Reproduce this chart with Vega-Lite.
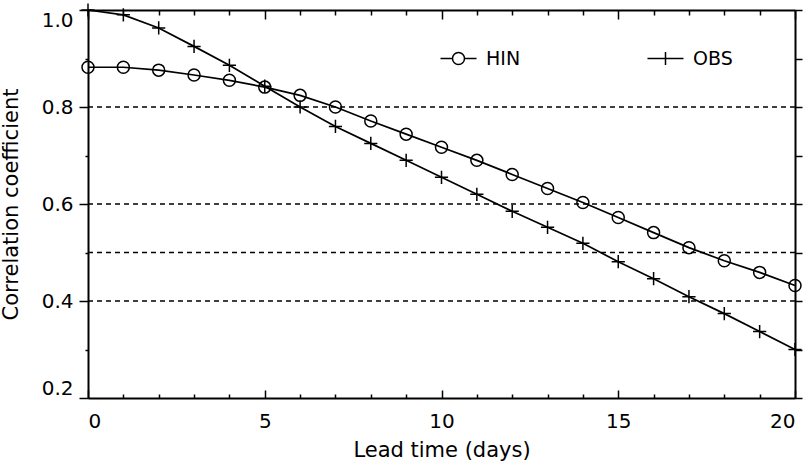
{
  "$schema": "https://vega.github.io/schema/vega-lite/v6.json",
  "width": 707,
  "height": 388,
  "autosize": {"type": "none"},
  "padding": {"left": 88, "top": 10, "right": 14, "bottom": 64},
  "background": "white",
  "config": {
    "view": {"stroke": null},
    "axis": {
      "domainColor": "black",
      "domainWidth": 2,
      "tickColor": "black",
      "tickWidth": 1.5,
      "labelFont": "DejaVu Sans",
      "labelFontSize": 20,
      "labelColor": "black",
      "titleFont": "DejaVu Sans",
      "titleFontSize": 21,
      "titleFontWeight": "normal",
      "titleColor": "black",
      "grid": false
    },
    "legend": {
      "labelFont": "DejaVu Sans",
      "labelFontSize": 19,
      "labelColor": "black",
      "title": null,
      "orient": "none",
      "symbolSize": 144,
      "symbolStrokeColor": "black",
      "symbolFillColor": "transparent",
      "symbolStrokeWidth": 1.5,
      "symbolOpacity": 1,
      "labelOffset": 18
    }
  },
  "datasets": {
    "grid": [{"level": 0.4}, {"level": 0.5}, {"level": 0.6}, {"level": 0.8}],
    "corr": [
      {"day": 0, "value": 0.882, "series": "HIN"},
      {"day": 1, "value": 0.882, "series": "HIN"},
      {"day": 2, "value": 0.876, "series": "HIN"},
      {"day": 3, "value": 0.866, "series": "HIN"},
      {"day": 4, "value": 0.855, "series": "HIN"},
      {"day": 5, "value": 0.841, "series": "HIN"},
      {"day": 6, "value": 0.824, "series": "HIN"},
      {"day": 7, "value": 0.8, "series": "HIN"},
      {"day": 8, "value": 0.771, "series": "HIN"},
      {"day": 9, "value": 0.744, "series": "HIN"},
      {"day": 10, "value": 0.717, "series": "HIN"},
      {"day": 11, "value": 0.69, "series": "HIN"},
      {"day": 12, "value": 0.661, "series": "HIN"},
      {"day": 13, "value": 0.632, "series": "HIN"},
      {"day": 14, "value": 0.603, "series": "HIN"},
      {"day": 15, "value": 0.572, "series": "HIN"},
      {"day": 16, "value": 0.541, "series": "HIN"},
      {"day": 17, "value": 0.51, "series": "HIN"},
      {"day": 18, "value": 0.483, "series": "HIN"},
      {"day": 19, "value": 0.459, "series": "HIN"},
      {"day": 20, "value": 0.432, "series": "HIN"},
      {"day": 0, "value": 1.0, "series": "OBS"},
      {"day": 1, "value": 0.99, "series": "OBS"},
      {"day": 2, "value": 0.963, "series": "OBS"},
      {"day": 3, "value": 0.925, "series": "OBS"},
      {"day": 4, "value": 0.886, "series": "OBS"},
      {"day": 5, "value": 0.843, "series": "OBS"},
      {"day": 6, "value": 0.8, "series": "OBS"},
      {"day": 7, "value": 0.76, "series": "OBS"},
      {"day": 8, "value": 0.725, "series": "OBS"},
      {"day": 9, "value": 0.69, "series": "OBS"},
      {"day": 10, "value": 0.655, "series": "OBS"},
      {"day": 11, "value": 0.62, "series": "OBS"},
      {"day": 12, "value": 0.585, "series": "OBS"},
      {"day": 13, "value": 0.552, "series": "OBS"},
      {"day": 14, "value": 0.519, "series": "OBS"},
      {"day": 15, "value": 0.481, "series": "OBS"},
      {"day": 16, "value": 0.446, "series": "OBS"},
      {"day": 17, "value": 0.409, "series": "OBS"},
      {"day": 18, "value": 0.374, "series": "OBS"},
      {"day": 19, "value": 0.337, "series": "OBS"},
      {"day": 20, "value": 0.3, "series": "OBS"}
    ]
  },
  "resolve": {
    "axis": {"x": "independent", "y": "independent"},
    "scale": {"color": "independent"},
    "legend": {"color": "independent"}
  },
  "layer": [
    {
      "data": {"name": "grid"},
      "mark": {"type": "rule", "strokeDash": [5, 4], "strokeWidth": 1.3, "color": "black"},
      "encoding": {
        "y": {
          "field": "level",
          "type": "quantitative",
          "scale": {"domain": [0.2, 1.0], "nice": false, "zero": false},
          "axis": {
            "orient": "left",
            "title": "Correlation coefficient",
            "values": [0.2, 0.3, 0.4, 0.5, 0.6, 0.7, 0.8, 0.9, 1.0],
            "format": ".1f",
            "labelExpr": "round(datum.value * 10) % 2 === 0 ? datum.label : ''",
            "tickSize": {"condition": {"test": "round(datum.value * 10) % 2 === 0", "value": 9}, "value": 3},
            "labelFlush": true,
            "labelPadding": 6,
            "titlePadding": 20
          }
        }
      }
    },
    {
      "data": {"name": "corr"},
      "transform": [{"filter": "datum.series === 'HIN'"}],
      "mark": {"type": "line", "strokeWidth": 1.7},
      "encoding": {
        "x": {
          "field": "day",
          "type": "quantitative",
          "scale": {"domain": [0, 20], "nice": false},
          "axis": {
            "orient": "bottom",
            "title": "Lead time (days)",
            "values": [0, 1, 2, 3, 4, 5, 6, 7, 8, 9, 10, 11, 12, 13, 14, 15, 16, 17, 18, 19, 20],
            "labelExpr": "datum.value % 5 === 0 ? datum.label : ''",
            "tickSize": {"condition": {"test": "datum.value % 5 === 0", "value": -8}, "value": -4},
            "labelPadding": 21,
            "titlePadding": 8
          }
        },
        "y": {"field": "value", "type": "quantitative", "axis": null},
        "color": {
          "field": "series",
          "type": "nominal",
          "scale": {"range": ["black"]},
          "legend": {
            "legendX": 361,
            "legendY": 39,
            "symbolType": "M-3,0H-1M1,0H3M-1,0A1,1 0 1,0 1,0A1,1 0 1,0 -1,0"
          }
        }
      }
    },
    {
      "data": {"name": "corr"},
      "transform": [{"filter": "datum.series === 'OBS'"}],
      "mark": {"type": "line", "strokeWidth": 1.7},
      "encoding": {
        "x": {"field": "day", "type": "quantitative", "axis": null},
        "y": {"field": "value", "type": "quantitative", "axis": null},
        "color": {
          "field": "series",
          "type": "nominal",
          "scale": {"range": ["black"]},
          "legend": {
            "legendX": 568,
            "legendY": 39,
            "symbolType": "M-3,0H3M0,-1.1V1.1"
          }
        }
      }
    },
    {
      "data": {"name": "corr"},
      "mark": {"type": "point", "filled": false, "color": "black", "strokeWidth": 1.5, "size": 144, "opacity": 1},
      "encoding": {
        "x": {
          "field": "day",
          "type": "quantitative",
          "axis": {
            "orient": "top",
            "title": null,
            "labels": false,
            "values": [0, 1, 2, 3, 4, 5, 6, 7, 8, 9, 10, 11, 12, 13, 14, 15, 16, 17, 18, 19, 20],
            "tickSize": {"condition": {"test": "datum.value % 5 === 0", "value": -9}, "value": -5}
          }
        },
        "y": {
          "field": "value",
          "type": "quantitative",
          "axis": {
            "orient": "right",
            "title": null,
            "labels": false,
            "values": [0.2, 0.3, 0.4, 0.5, 0.6, 0.7, 0.8, 0.9, 1.0],
            "tickSize": 7
          }
        },
        "shape": {
          "field": "series",
          "type": "nominal",
          "scale": {"domain": ["HIN", "OBS"], "range": ["circle", "M-1.1,0H1.1M0,-1.1V1.1"]},
          "legend": null
        }
      }
    }
  ]
}
